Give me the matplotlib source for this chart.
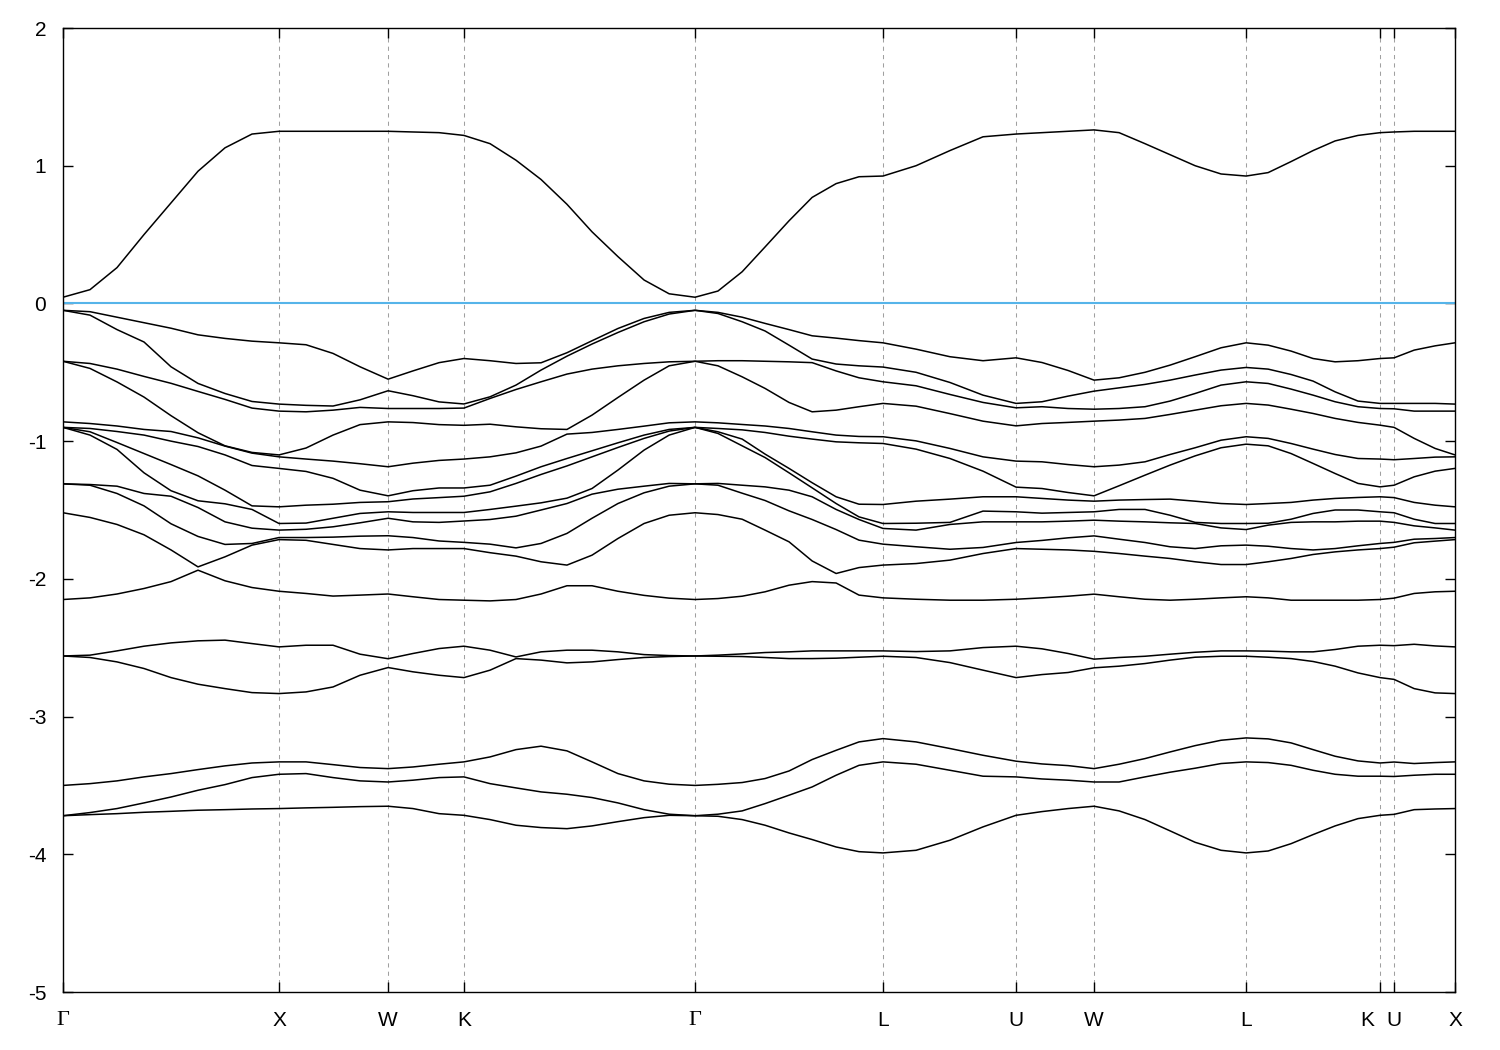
import numpy as np
import matplotlib
matplotlib.use("Agg")
import matplotlib.pyplot as plt
from matplotlib.transforms import ScaledTranslation

plt.rcParams['font.family'] = ['Liberation Sans', 'DejaVu Sans']
plt.rcParams['axes.unicode_minus'] = False

# high symmetry points along the k path (Gamma-X = 1)
sym_pos = [0.0, 1.0, 1.505, 1.856, 2.926, 3.796, 4.412, 4.773, 5.477, 6.097, 6.162, 6.444]
sym_labels = ["Γ", "X", "W", "K", "Γ", "L", "U", "W", "L", "K", "U", "X"]

# sampled k points
kpath = [0.0, 0.125, 0.25, 0.375, 0.5, 0.625, 0.75, 0.875, 1.0,
         1.125, 1.25, 1.375, 1.505,
         1.620, 1.741, 1.856,
         1.977, 2.097, 2.213, 2.333, 2.449, 2.569, 2.690, 2.806, 2.926,
         3.032, 3.144, 3.250, 3.361, 3.468, 3.579, 3.685, 3.796,
         3.949, 4.106, 4.259, 4.412,
         4.532, 4.653, 4.773,
         4.889, 5.009, 5.125, 5.241, 5.361, 5.477,
         5.579, 5.685, 5.787, 5.889, 5.995, 6.097,
         6.162, 6.255, 6.352, 6.444]

cond_band = [0.045, 0.10, 0.26, 0.50, 0.73, 0.96, 1.13, 1.23, 1.25,
             1.25, 1.25, 1.25, 1.25,
             1.245, 1.24, 1.22,
             1.16, 1.04, 0.90, 0.72, 0.52, 0.34, 0.17, 0.07, 0.045,
             0.09, 0.23, 0.41, 0.60, 0.77, 0.87, 0.92, 0.925,
             1.00, 1.11, 1.21, 1.23,
             1.24, 1.25, 1.26,
             1.24, 1.16, 1.08, 1.00, 0.94, 0.925,
             0.95, 1.03, 1.11, 1.18, 1.22, 1.24,
             1.245, 1.25, 1.25, 1.25]

# valence band energies at each k point (17 bands, any order inside a row)
gamma_x = [
    [-0.05, -0.05, -0.42, -0.42, -0.86, -0.90, -0.90, -0.90, -1.31, -1.31, -1.52, -2.15, -2.56, -2.56, -3.50, -3.72, -3.72],
    [-0.06, -0.085, -0.436, -0.472, -0.872, -0.908, -0.932, -0.956, -1.315, -1.32, -1.554, -2.138, -2.554, -2.571, -3.487, -3.697, -3.712],
    [-0.10, -0.19, -0.477, -0.57, -0.89, -0.93, -1.01, -1.06, -1.327, -1.38, -1.605, -2.11, -2.523, -2.603, -3.467, -3.668, -3.705],
    [-0.14, -0.28, -0.53, -0.68, -0.915, -0.956, -1.09, -1.23, -1.38, -1.47, -1.68, -2.07, -2.489, -2.651, -3.438, -3.627, -3.695],
    [-0.18, -0.46, -0.58, -0.815, -0.93, -1.00, -1.17, -1.36, -1.40, -1.60, -1.79, -2.02, -2.465, -2.717, -3.414, -3.584, -3.688],
    [-0.228, -0.581, -0.639, -0.939, -0.976, -1.039, -1.252, -1.482, -1.433, -1.692, -1.913, -1.937, -2.45, -2.765, -3.385, -3.535, -3.68],
    [-0.254, -0.654, -0.697, -1.036, -1.034, -1.10, -1.356, -1.586, -1.455, -1.75, -2.014, -1.84, -2.445, -2.797, -3.358, -3.494, -3.676],
    [-0.274, -0.712, -0.76, -1.087, -1.082, -1.177, -1.496, -1.632, -1.47, -1.743, -2.063, -1.755, -2.47, -2.826, -3.337, -3.443, -3.671],
    [-0.286, -0.731, -0.782, -1.10, -1.114, -1.198, -1.477, -1.598, -1.646, -1.70, -1.715, -2.09, -2.494, -2.833, -3.329, -3.419, -3.668],
]
x_w = [
    [-0.30, -0.74, -0.787, -1.05, -1.13, -1.22, -1.465, -1.595, -1.64, -1.70, -1.72, -2.106, -2.482, -2.821, -3.329, -3.414, -3.663],
    [-0.363, -0.745, -0.775, -0.956, -1.145, -1.27, -1.458, -1.56, -1.622, -1.697, -1.75, -2.125, -2.482, -2.785, -3.349, -3.443, -3.659],
    [-0.46, -0.755, -0.70, -0.88, -1.164, -1.356, -1.445, -1.525, -1.593, -1.69, -1.78, -2.118, -2.547, -2.70, -3.37, -3.467, -3.654],
    [-0.55, -0.763, -0.634, -0.86, -1.186, -1.397, -1.44, -1.513, -1.56, -1.687, -1.79, -2.11, -2.58, -2.644, -3.378, -3.475, -3.651],
]
w_k = [
    [-0.49, -0.67, -0.763, -0.865, -1.16, -1.36, -1.42, -1.518, -1.586, -1.70, -1.78, -2.13, -2.542, -2.675, -3.366, -3.462, -3.668],
    [-0.43, -0.715, -0.763, -0.88, -1.14, -1.34, -1.41, -1.518, -1.59, -1.725, -1.78, -2.15, -2.506, -2.70, -3.346, -3.443, -3.705],
    [-0.40, -0.73, -0.76, -0.885, -1.13, -1.34, -1.40, -1.518, -1.58, -1.735, -1.78, -2.155, -2.489, -2.717, -3.329, -3.438, -3.717],
]
k_gamma = [
    [-0.416, -0.678, -0.69, -0.877, -1.114, -1.32, -1.368, -1.496, -1.569, -1.748, -1.81, -2.16, -2.518, -2.663, -3.293, -3.487, -3.748],
    [-0.436, -0.593, -0.625, -0.896, -1.085, -1.254, -1.307, -1.472, -1.545, -1.775, -1.835, -2.15, -2.567, -2.579, -3.24, -3.518, -3.789],
    [-0.431, -0.484, -0.569, -0.91, -1.036, -1.186, -1.242, -1.448, -1.50, -1.743, -1.876, -2.11, -2.53, -2.59, -3.215, -3.547, -3.806],
    [-0.358, -0.383, -0.513, -0.915, -0.949, -1.126, -1.18, -1.414, -1.453, -1.67, -1.90, -2.05, -2.518, -2.61, -3.249, -3.564, -3.814],
    [-0.271, -0.295, -0.477, -0.811, -0.937, -1.07, -1.114, -1.344, -1.385, -1.56, -1.828, -2.05, -2.518, -2.603, -3.329, -3.588, -3.794],
    [-0.182, -0.211, -0.453, -0.683, -0.915, -1.012, -1.046, -1.21, -1.349, -1.453, -1.707, -2.09, -2.53, -2.586, -3.414, -3.627, -3.763],
    [-0.109, -0.133, -0.436, -0.557, -0.891, -0.956, -0.98, -1.065, -1.327, -1.375, -1.598, -2.12, -2.55, -2.571, -3.467, -3.676, -3.734],
    [-0.065, -0.077, -0.424, -0.453, -0.867, -0.915, -0.927, -0.956, -1.307, -1.327, -1.538, -2.14, -2.557, -2.564, -3.491, -3.709, -3.717],
    [-0.05, -0.05, -0.42, -0.42, -0.86, -0.90, -0.90, -0.90, -1.31, -1.31, -1.52, -2.15, -2.56, -2.56, -3.50, -3.72, -3.72],
]
gamma_l = [
    [-0.065, -0.073, -0.416, -0.453, -0.867, -0.908, -0.932, -0.944, -1.307, -1.32, -1.533, -2.143, -2.554, -2.562, -3.492, -3.709, -3.724],
    [-0.10, -0.133, -0.416, -0.533, -0.879, -0.918, -0.985, -1.034, -1.32, -1.378, -1.567, -2.126, -2.545, -2.564, -3.479, -3.685, -3.748],
    [-0.145, -0.20, -0.42, -0.617, -0.89, -0.937, -1.094, -1.119, -1.332, -1.431, -1.646, -2.094, -2.535, -2.571, -3.45, -3.632, -3.789],
    [-0.19, -0.303, -0.424, -0.719, -0.908, -0.964, -1.198, -1.23, -1.356, -1.506, -1.731, -2.046, -2.53, -2.579, -3.395, -3.571, -3.845],
    [-0.235, -0.404, -0.43, -0.787, -0.932, -0.985, -1.302, -1.339, -1.404, -1.569, -1.87, -2.02, -2.523, -2.579, -3.312, -3.511, -3.893],
    [-0.252, -0.49, -0.44, -0.775, -0.956, -1.005, -1.404, -1.453, -1.496, -1.642, -1.961, -2.03, -2.523, -2.576, -3.245, -3.426, -3.947],
    [-0.27, -0.54, -0.453, -0.75, -0.966, -1.012, -1.458, -1.55, -1.569, -1.719, -1.918, -2.118, -2.523, -2.569, -3.184, -3.354, -3.981],
    [-0.286, -0.569, -0.462, -0.726, -0.968, -1.017, -1.46, -1.598, -1.634, -1.748, -1.90, -2.138, -2.523, -2.562, -3.16, -3.329, -3.99],
]
l_u = [
    [-0.332, -0.598, -0.50, -0.746, -0.998, -1.058, -1.436, -1.646, -1.596, -1.767, -1.889, -2.148, -2.528, -2.571, -3.184, -3.346, -3.971],
    [-0.387, -0.661, -0.574, -0.80, -1.053, -1.126, -1.421, -1.605, -1.59, -1.785, -1.864, -2.155, -2.523, -2.608, -3.232, -3.39, -3.898],
    [-0.416, -0.719, -0.666, -0.855, -1.114, -1.218, -1.404, -1.508, -1.586, -1.772, -1.816, -2.155, -2.499, -2.663, -3.281, -3.433, -3.801],
    [-0.395, -0.758, -0.726, -0.889, -1.145, -1.334, -1.404, -1.513, -1.586, -1.736, -1.78, -2.148, -2.489, -2.717, -3.324, -3.438, -3.717],
]
u_w = [
    [-0.429, -0.714, -0.75, -0.872, -1.15, -1.344, -1.416, -1.523, -1.586, -1.721, -1.785, -2.138, -2.508, -2.695, -3.344, -3.453, -3.69],
    [-0.487, -0.673, -0.763, -0.864, -1.17, -1.373, -1.428, -1.518, -1.581, -1.702, -1.79, -2.126, -2.542, -2.68, -3.356, -3.462, -3.668],
    [-0.557, -0.637, -0.768, -0.855, -1.186, -1.397, -1.436, -1.513, -1.574, -1.688, -1.80, -2.111, -2.583, -2.646, -3.378, -3.475, -3.651],
]
w_l = [
    [-0.54, -0.613, -0.763, -0.847, -1.174, -1.324, -1.428, -1.496, -1.581, -1.712, -1.816, -2.13, -2.571, -2.634, -3.346, -3.475, -3.685],
    [-0.50, -0.588, -0.75, -0.835, -1.15, -1.247, -1.424, -1.496, -1.586, -1.736, -1.835, -2.148, -2.562, -2.615, -3.305, -3.438, -3.748],
    [-0.448, -0.557, -0.709, -0.806, -1.097, -1.174, -1.421, -1.538, -1.593, -1.767, -1.852, -2.155, -2.547, -2.59, -3.257, -3.404, -3.83],
    [-0.387, -0.52, -0.654, -0.775, -1.048, -1.107, -1.436, -1.59, -1.598, -1.78, -1.876, -2.148, -2.533, -2.569, -3.211, -3.375, -3.913],
    [-0.322, -0.484, -0.593, -0.743, -0.993, -1.048, -1.453, -1.63, -1.598, -1.76, -1.896, -2.138, -2.523, -2.562, -3.172, -3.341, -3.971],
    [-0.286, -0.465, -0.569, -0.726, -0.968, -1.022, -1.46, -1.642, -1.598, -1.755, -1.896, -2.13, -2.523, -2.562, -3.155, -3.329, -3.99],
]
l_k = [
    [-0.303, -0.477, -0.581, -0.738, -0.98, -1.034, -1.453, -1.61, -1.596, -1.763, -1.876, -2.138, -2.525, -2.569, -3.162, -3.334, -3.976],
    [-0.346, -0.516, -0.622, -0.768, -1.017, -1.09, -1.445, -1.567, -1.59, -1.78, -1.852, -2.155, -2.53, -2.579, -3.191, -3.354, -3.923],
    [-0.40, -0.564, -0.666, -0.799, -1.058, -1.162, -1.428, -1.525, -1.586, -1.79, -1.823, -2.155, -2.53, -2.60, -3.24, -3.39, -3.857],
    [-0.424, -0.642, -0.714, -0.835, -1.097, -1.235, -1.416, -1.50, -1.586, -1.78, -1.804, -2.155, -2.513, -2.634, -3.288, -3.419, -3.794],
    [-0.416, -0.709, -0.75, -0.864, -1.126, -1.307, -1.409, -1.50, -1.581, -1.76, -1.79, -2.155, -2.489, -2.683, -3.322, -3.433, -3.741],
    [-0.40, -0.726, -0.763, -0.884, -1.13, -1.332, -1.404, -1.513, -1.581, -1.743, -1.78, -2.15, -2.482, -2.717, -3.337, -3.433, -3.717],
]
u_x = [
    [-0.395, -0.726, -0.765, -0.90, -1.135, -1.32, -1.41, -1.52, -1.59, -1.735, -1.77, -2.14, -2.485, -2.73, -3.33, -3.435, -3.71],
    [-0.339, -0.726, -0.782, -0.98, -1.126, -1.259, -1.445, -1.567, -1.615, -1.712, -1.738, -2.106, -2.475, -2.797, -3.341, -3.426, -3.676],
    [-0.308, -0.726, -0.782, -1.053, -1.116, -1.218, -1.465, -1.598, -1.63, -1.707, -1.726, -2.094, -2.487, -2.828, -3.334, -3.419, -3.671],
    [-0.286, -0.731, -0.782, -1.10, -1.114, -1.198, -1.477, -1.598, -1.646, -1.70, -1.715, -2.09, -2.494, -2.833, -3.329, -3.419, -3.668],
]

valence = np.array(gamma_x + x_w + w_k + k_gamma + gamma_l + l_u + u_w + w_l + l_k + u_x)
valence = np.sort(valence, axis=1)

fig = plt.figure(figsize=(15, 10.5), dpi=100)
ax = fig.add_axes([63/1500, 1 - 992/1050, (1455 - 63)/1500, (992 - 28)/1050])

for k in sym_pos[1:-1]:
    ax.axvline(k, color="#a0a0a0", lw=0.75, ls=(0, (4, 4)), zorder=1)
ax.axhline(0, color="#56b4e9", lw=1.5, zorder=2)

ax.plot(kpath, cond_band, color="black", lw=1.1, zorder=3)
for i in range(valence.shape[1]):
    ax.plot(kpath, valence[:, i], color="black", lw=1.1, zorder=3)

ax.set_xlim(sym_pos[0], sym_pos[-1])
ax.set_ylim(-5, 2)
ax.set_yticks(range(-5, 3))
ax.set_yticklabels([str(v) for v in range(-5, 3)])
ax.set_xticks(sym_pos)
ax.set_xticklabels(sym_labels)

ax.tick_params(axis="both", direction="in", length=7, width=1, top=True, right=True,
               labelsize=15, colors="black")
ax.tick_params(axis="x", pad=14)
ax.tick_params(axis="y", pad=12)

xlabs = ax.get_xticklabels()
for lab in xlabs:
    if lab.get_text() == "Γ":
        lab.set_family("Liberation Serif")
        lab.set_fontsize(16)
# the K just before U sits a bit to the left in the original
xlabs[9].set_transform(xlabs[9].get_transform() + ScaledTranslation(-0.13, 0, fig.dpi_scale_trans))

for sp in ax.spines.values():
    sp.set_linewidth(1.0)

plt.savefig("out.png", dpi=100)
